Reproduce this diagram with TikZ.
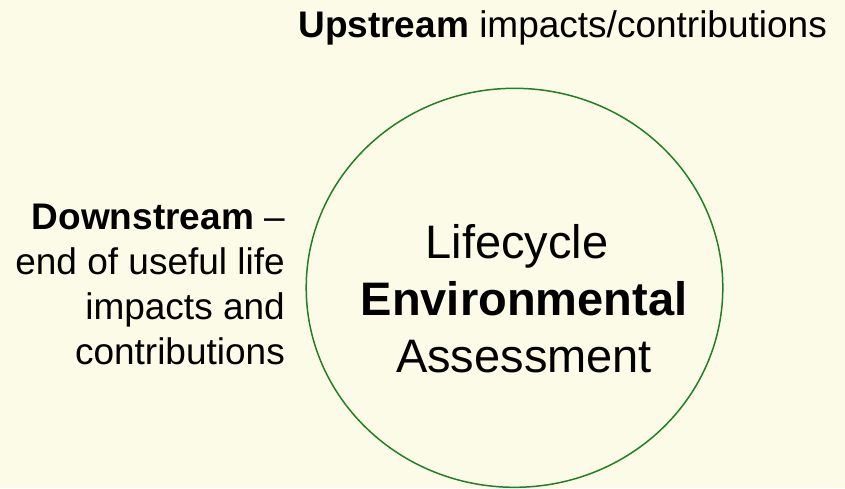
\documentclass[tikz,border=0pt]{standalone}
\usepackage{fontspec}
\setmainfont{Liberation Sans}
\definecolor{bg}{RGB}{251,251,231}
\definecolor{ring}{RGB}{34,128,34}
\begin{document}
\begin{tikzpicture}[x=1pt,y=-1pt,
  txt/.style={inner sep=0pt, anchor=base east, font=\fontsize{37}{44}\selectfont},
  big/.style={inner sep=0pt, anchor=base, font=\fontsize{47}{57}\selectfont}]
\fill[bg] (0,0) rectangle (845,488);
\useasboundingbox (0,0) rectangle (845,488);
\begin{scope}
\clip (0,0) rectangle (845,488);
\draw[ring, line width=1.5pt] (514.5,287.8) ellipse [x radius=208.3pt, y radius=199.5pt];
\end{scope}
\node[txt] (up) at (827,37) {\textbf{Upstream} impacts/contributions};
\node[txt] (d1) at (285,229) {\textbf{Downstream} –};
\node[txt] (d2) at (285,274) {end of useful life};
\node[txt] (d3) at (285,319) {impacts and};
\node[txt] (d4) at (285,364) {contributions};
\node[big] (c1) at (517,258) {Lifecycle};
\node[big] (c2) at (524,315) {\textbf{Environmental}};
\node[big] (c3) at (524,372) {Assessment};
\end{tikzpicture}
\end{document}
